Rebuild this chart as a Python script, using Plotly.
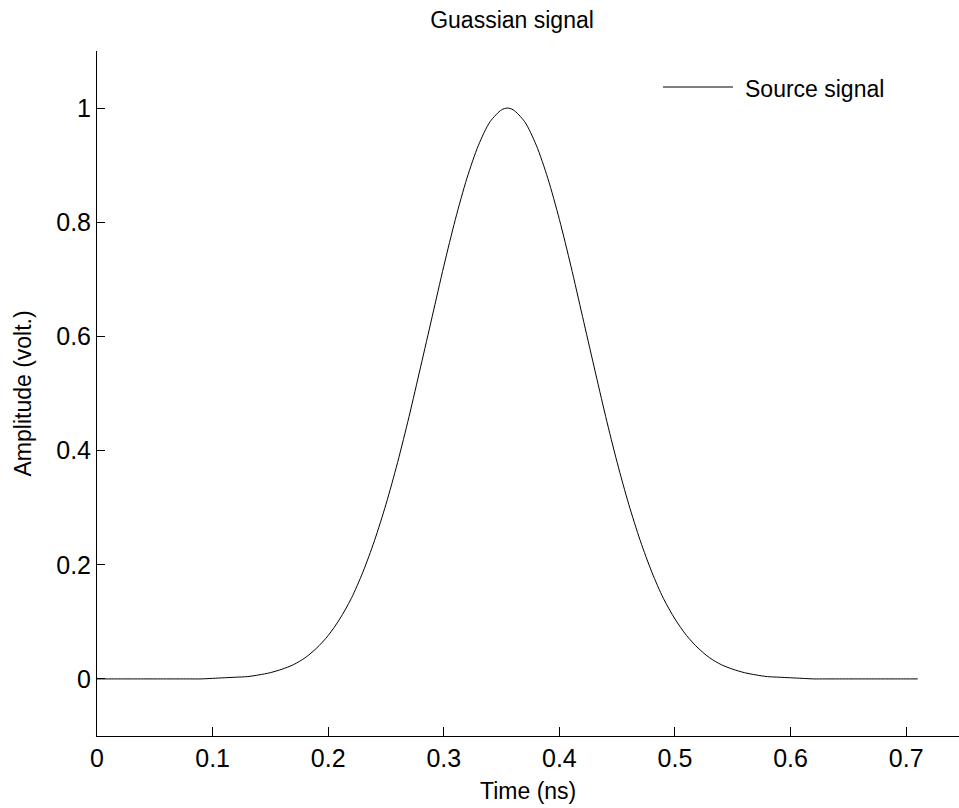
import plotly.graph_objects as go

# Time samples (ns) and the source signal amplitude (volt.)
time_ns = [0.00, 0.01, 0.02, 0.03, 0.04, 0.05, 0.06, 0.07, 0.08, 0.09,
           0.10, 0.11, 0.12, 0.13, 0.14, 0.15, 0.16, 0.17, 0.18, 0.19,
           0.20, 0.21, 0.22, 0.23, 0.24, 0.25, 0.26, 0.27, 0.28, 0.29,
           0.30, 0.31, 0.32, 0.33, 0.34, 0.35, 0.355, 0.36, 0.37, 0.38, 0.39,
           0.40, 0.41, 0.42, 0.43, 0.44, 0.45, 0.46, 0.47, 0.48, 0.49,
           0.50, 0.51, 0.52, 0.53, 0.54, 0.55, 0.56, 0.57, 0.58, 0.59,
           0.60, 0.61, 0.62, 0.63, 0.64, 0.65, 0.66, 0.67, 0.68, 0.69,
           0.70, 0.71]
amplitude = [0.000, 0.000, 0.000, 0.000, 0.000, 0.000, 0.000, 0.000, 0.000, 0.000,
             0.001, 0.002, 0.003, 0.004, 0.007, 0.011, 0.017, 0.025, 0.037, 0.054,
             0.076, 0.105, 0.141, 0.187, 0.242, 0.306, 0.379, 0.460, 0.547, 0.635,
             0.723, 0.805, 0.877, 0.935, 0.976, 0.997, 1.000, 0.997, 0.976, 0.935, 0.877,
             0.805, 0.723, 0.635, 0.547, 0.460, 0.379, 0.306, 0.242, 0.187, 0.141,
             0.105, 0.076, 0.054, 0.037, 0.025, 0.017, 0.011, 0.007, 0.004, 0.003,
             0.002, 0.001, 0.000, 0.000, 0.000, 0.000, 0.000, 0.000, 0.000, 0.000,
             0.000, 0.000]

x_ticks = [0, 0.1, 0.2, 0.3, 0.4, 0.5, 0.6, 0.7]
x_tick_labels = ["0", "0.1", "0.2", "0.3", "0.4", "0.5", "0.6", "0.7"]
y_ticks = [0, 0.2, 0.4, 0.6, 0.8, 1]
y_tick_labels = ["0", "0.2", "0.4", "0.6", "0.8", "1"]

series_name = "Source signal"
title_text = "Guassian signal"
x_label = "Time (ns)"
y_label = "Amplitude (volt.)"

FONT = "Liberation Sans, Arial, Helvetica, sans-serif"

fig = go.Figure()
fig.add_trace(go.Scatter(
    x=time_ns, y=amplitude, mode="lines", name=series_name,
    line=dict(color="black", width=1, shape="spline", smoothing=0.8),
    showlegend=False,
))

fig.update_layout(
    width=959, height=808,
    margin=dict(l=97, r=0, t=51, b=72),
    paper_bgcolor="white", plot_bgcolor="white",
    font=dict(family=FONT, color="black", size=23),
    title=dict(text=title_text, x=(512 - 97) / 862, xref="paper", xanchor="center",
               y=1 - 20 / 808, yanchor="middle", font=dict(size=23)),
    xaxis=dict(range=[0, 0.7457], tickvals=x_ticks, ticktext=x_tick_labels,
               ticks="inside", ticklen=9, tickcolor="black", tickwidth=1,
               showline=True, linecolor="black", linewidth=1,
               showgrid=False, zeroline=False, ticklabelstandoff=0,
               tickfont=dict(size=25)),
    yaxis=dict(range=[-0.1, 1.1], tickvals=y_ticks, ticktext=y_tick_labels,
               ticks="inside", ticklen=8, tickcolor="black", tickwidth=1,
               showline=True, linecolor="black", linewidth=1,
               showgrid=False, zeroline=False, ticklabelstandoff=0,
               tickfont=dict(size=25)),
    annotations=[
        dict(text=x_label, xref="paper", yref="paper", x=(527.5 - 97) / 862,
             y=-(791 - 736) / 685, xanchor="center", yanchor="middle",
             showarrow=False, font=dict(size=23)),
        dict(text=y_label, xref="paper", yref="paper", x=-(97 - 22) / 862,
             y=0.5, xanchor="center", yanchor="middle", textangle=-90,
             showarrow=False, font=dict(size=23)),
        dict(text=series_name, xref="paper", yref="paper", x=(743 - 97) / 862,
             y=(736 - 89) / 685, xanchor="left", yanchor="middle",
             showarrow=False, font=dict(size=23)),
    ],
    shapes=[
        dict(type="line", xref="paper", yref="paper",
             x0=(663 - 97) / 862, x1=(733 - 97) / 862,
             y0=(736 - 87) / 685, y1=(736 - 87) / 685,
             line=dict(color="black", width=1)),
    ],
)

fig.write_html("out.html")
